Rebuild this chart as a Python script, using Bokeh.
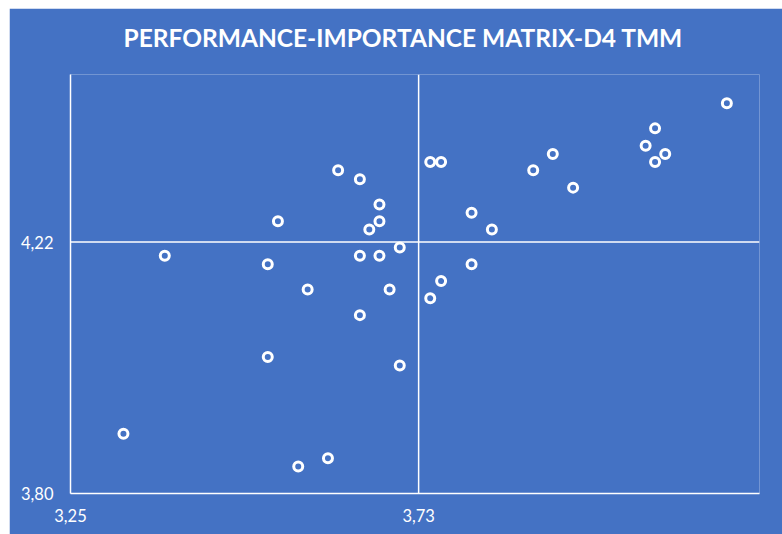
from bokeh.plotting import figure
from bokeh.models import Range1d, FixedTicker, CustomJSTickFormatter, Span, Title
from bokeh.embed import file_html
from bokeh.resources import INLINE

# Performance (x) and Importance (y) values
performance = [3.323, 3.380, 3.522, 3.522, 3.536, 3.564, 3.577, 3.605, 3.619, 3.649,
               3.649, 3.649, 3.662, 3.676, 3.676, 3.676, 3.690, 3.704, 3.704, 3.746,
               3.761, 3.746, 3.761, 3.803, 3.803, 3.831, 3.888, 3.915, 3.943, 4.043,
               4.056, 4.056, 4.070, 4.155]
importance = [3.900, 4.197, 4.183, 4.028, 4.255, 3.845, 4.141, 3.859, 4.340, 4.325,
              4.197, 4.098, 4.241, 4.283, 4.255, 4.197, 4.141, 4.211, 4.014, 4.354,
              4.354, 4.126, 4.155, 4.269, 4.183, 4.241, 4.340, 4.367, 4.311, 4.381,
              4.410, 4.354, 4.367, 4.452]

x_ticks = [3.25, 3.73]
y_ticks = [3.80, 4.22]
x_cross = 3.73
y_cross = 4.22
x_limits = (3.25, 4.20)
y_limits = (3.80, 4.50)
title_text = "PERFORMANCE-IMPORTANCE MATRIX-D4 TMM"

BG = "#4472C4"
FONT = "Lato"

p = figure(width=773, height=526, output_backend="svg", toolbar_location=None,
           x_range=Range1d(*x_limits), y_range=Range1d(*y_limits),
           min_border_left=61, min_border_right=23, min_border_top=66,
           min_border_bottom=41, background_fill_color=BG, border_fill_color=BG,
           outline_line_color=None)
p.margin = (8, 0, 0, 9)

# empty spacer between the plot area and the title
spacer = Title(text=" ", text_font_size="1px", text_color=BG, standoff=18)
p.add_layout(spacer, "above")
t = Title(text=title_text, align="left", vertical_align="top", text_font=FONT,
          text_font_style="bold", text_font_size="24.5px", text_color="white",
          offset=53, standoff=0)
p.add_layout(t, "above")

p.grid.visible = False
fmt = CustomJSTickFormatter(code="return tick.toFixed(2).replace('.', ',');")
for ax, ticks, standoff in ((p.xaxis[0], x_ticks, 15), (p.yaxis[0], y_ticks, 17)):
    ax.ticker = FixedTicker(ticks=ticks)
    ax.formatter = fmt
    ax.minor_tick_line_color = None
    ax.major_tick_line_color = None
    ax.major_tick_out = 0
    ax.major_tick_in = 0
    ax.axis_line_color = "white"
    ax.axis_line_width = 1.5
    ax.major_label_text_color = "white"
    ax.major_label_text_font = FONT
    ax.major_label_text_font_size = "16.5px"
    ax.major_label_standoff = standoff

p.add_layout(Span(location=x_cross, dimension="height", line_color="white", line_width=1.5))
p.add_layout(Span(location=y_cross, dimension="width", line_color="white", line_width=1.5))

p.scatter(performance, importance, marker="circle", size=9, line_width=3,
          line_color="white", fill_color=BG)

open("out.html", "w").write(file_html(p, INLINE))
